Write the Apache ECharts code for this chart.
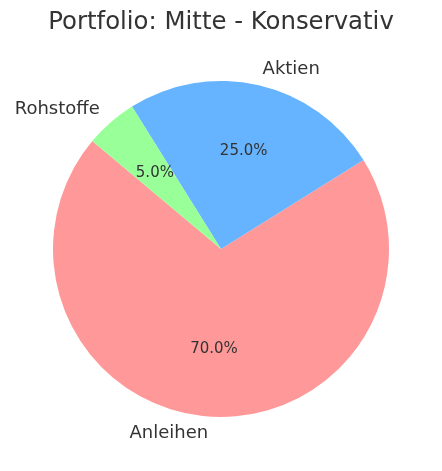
<!DOCTYPE html>
<html><head><meta charset="utf-8">
<script src="https://cdn.jsdelivr.net/npm/echarts@6/dist/echarts.min.js"></script>
<style>html,body{margin:0;padding:0;background:#fff}#c{width:442px;height:471px}</style>
</head><body><div id="c"></div>
<script>
const titleText = 'Portfolio: Mitte - Konservativ';
const categories = ['Anleihen', 'Aktien', 'Rohstoffe'];
const values = [70, 25, 5];
const colors = ['#ff9999', '#66b3ff', '#99ff99'];

const R = 168;
const total = values.reduce((a, b) => a + b, 0);
const mainData = categories.map((n, i) => ({ name: n, value: values[i], itemStyle: { color: colors[i] } }));
const pctData = categories.map((n, i) => ({ name: n, value: values[i] }));

const chart = echarts.init(document.getElementById('c'), null, { renderer: 'canvas' });
chart.setOption({
  animation: false,
  backgroundColor: '#ffffff',
  title: {
    text: titleText, left: 'center', top: 6,
    textStyle: { fontFamily: 'DejaVu Sans', fontSize: 24.4, fontWeight: 'normal', color: '#333' }
  },
  series: [
    {
      type: 'pie', center: [221, 249], radius: [0, R],
      startAngle: 140, clockwise: false, avoidLabelOverlap: false, silent: true,
      data: mainData,
      label: {
        show: true, position: 'outside', formatter: '{b}', distanceToLabelLine: 0,
        fontFamily: 'DejaVu Sans', fontSize: 18, color: '#333'
      },
      labelLine: { show: false, length: R * 0.1, length2: 0 },
      emphasis: { disabled: true }
    },
    {
      type: 'pie', center: [221, 249], radius: [0, R * 1.2 - 6],
      startAngle: 140, clockwise: false, avoidLabelOverlap: false, silent: true,
      data: pctData,
      itemStyle: { color: 'rgba(0,0,0,0)' },
      label: {
        show: true, position: 'inside',
        formatter: p => (p.value / total * 100).toFixed(1) + '%',
        fontFamily: 'DejaVu Sans', fontSize: 15, color: '#333'
      },
      labelLine: { show: false },
      emphasis: { disabled: true }
    }
  ]
});
</script>
</body></html>
